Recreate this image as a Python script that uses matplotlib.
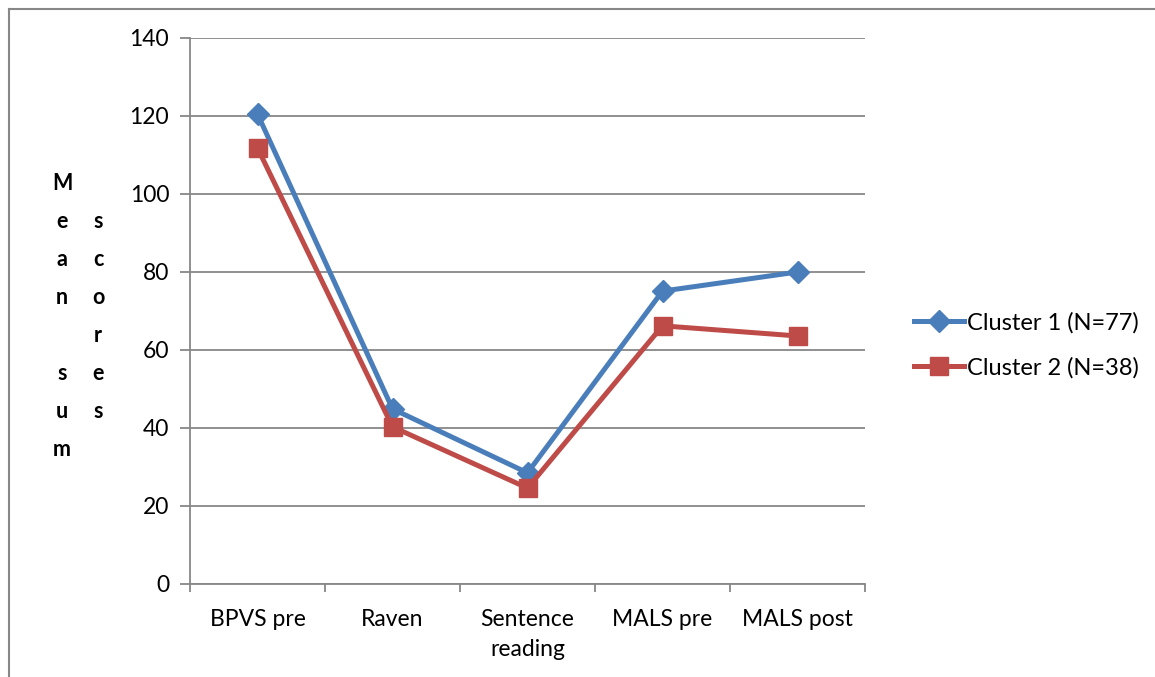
import numpy as np
import matplotlib.pyplot as plt
from matplotlib.lines import Line2D

# data
categories = ["BPVS pre", "Raven", "Sentence\nreading", "MALS pre", "MALS post"]
cluster1 = [120.5, 44.9, 28.5, 75.1, 80.0]
cluster2 = [111.8, 40.3, 24.6, 66.2, 63.6]
series_names = ["Cluster 1 (N=77)", "Cluster 2 (N=38)"]
yticks = [0, 20, 40, 60, 80, 100, 120, 140]

blue = "#4A7EBB"
red = "#BE4B48"
grid_grey = "#878787"
font = ["Lato", "DejaVu Sans"]

fig = plt.figure(figsize=(11.55, 6.77), dpi=100)
ax = fig.add_axes([190 / 1155, 1 - 584 / 677, 675 / 1155, 546 / 677])

x = np.arange(len(categories))
ax.plot(x, cluster1, color=blue, lw=3.6, marker="D", ms=11.5,
        mfc=blue, mec=blue, label=series_names[0], zorder=3)
ax.plot(x, cluster2, color=red, lw=3.6, marker="s", ms=13,
        mfc=red, mec=red, label=series_names[1], zorder=3)

ax.set_xlim(-0.5, len(categories) - 0.5)
ax.set_ylim(0, 140)
ax.set_yticks(yticks)
ax.set_yticklabels([str(v) for v in yticks], family=font, fontsize=16.5)
ax.yaxis.grid(True, color=grid_grey, lw=1.3)
ax.set_axisbelow(True)

ax.set_xticks(x)
ax.set_xticklabels(categories, family=font, fontsize=16.5, linespacing=1.55)
ax.set_xticks(np.arange(len(categories) + 1) - 0.5, minor=True)
ax.tick_params(axis="x", which="major", length=0, pad=18)
ax.tick_params(axis="x", which="minor", length=6, color=grid_grey, width=1.3)
ax.tick_params(axis="y", length=7, color=grid_grey, width=1.3, pad=8)

for s in ["top", "right"]:
    ax.spines[s].set_visible(False)
for s in ["left", "bottom"]:
    ax.spines[s].set_color(grid_grey)
    ax.spines[s].set_linewidth(1.3)

# vertical stacked y label, letter by letter like the original
col1 = "Mean sum"
col2 = "scores"
step = 38.0
for col, xpix in [(col1, 62), (col2, 98)]:
    y0 = 316 - step * (len(col) - 1) / 2
    for i, ch in enumerate(col):
        if ch == " ":
            continue
        fig.text(xpix / 1155, 1 - (y0 + i * step) / 677, ch, family=font,
                 fontsize=15.5, fontweight="bold", ha="center", va="center")

handles = [Line2D([], [], color=blue, lw=3.6, marker="D", ms=11.5),
           Line2D([], [], color=red, lw=3.6, marker="s", ms=13)]
fig.legend(handles, series_names, loc="center left",
           bbox_to_anchor=(893 / 1155, 1 - 345 / 677), frameon=False,
           prop={"family": font, "size": 17}, handlelength=2.1,
           handletextpad=0.15, labelspacing=1.0)

# outer chart frame (top and left edges visible)
fig.add_artist(Line2D([9 / 1155, 9 / 1155], [0, 1 - 9 / 677],
                      transform=fig.transFigure, color=grid_grey, lw=1.5))
fig.add_artist(Line2D([9 / 1155, 1], [1 - 9 / 677, 1 - 9 / 677],
                      transform=fig.transFigure, color=grid_grey, lw=1.5))

fig.savefig("out.png", dpi=100, facecolor="white")
